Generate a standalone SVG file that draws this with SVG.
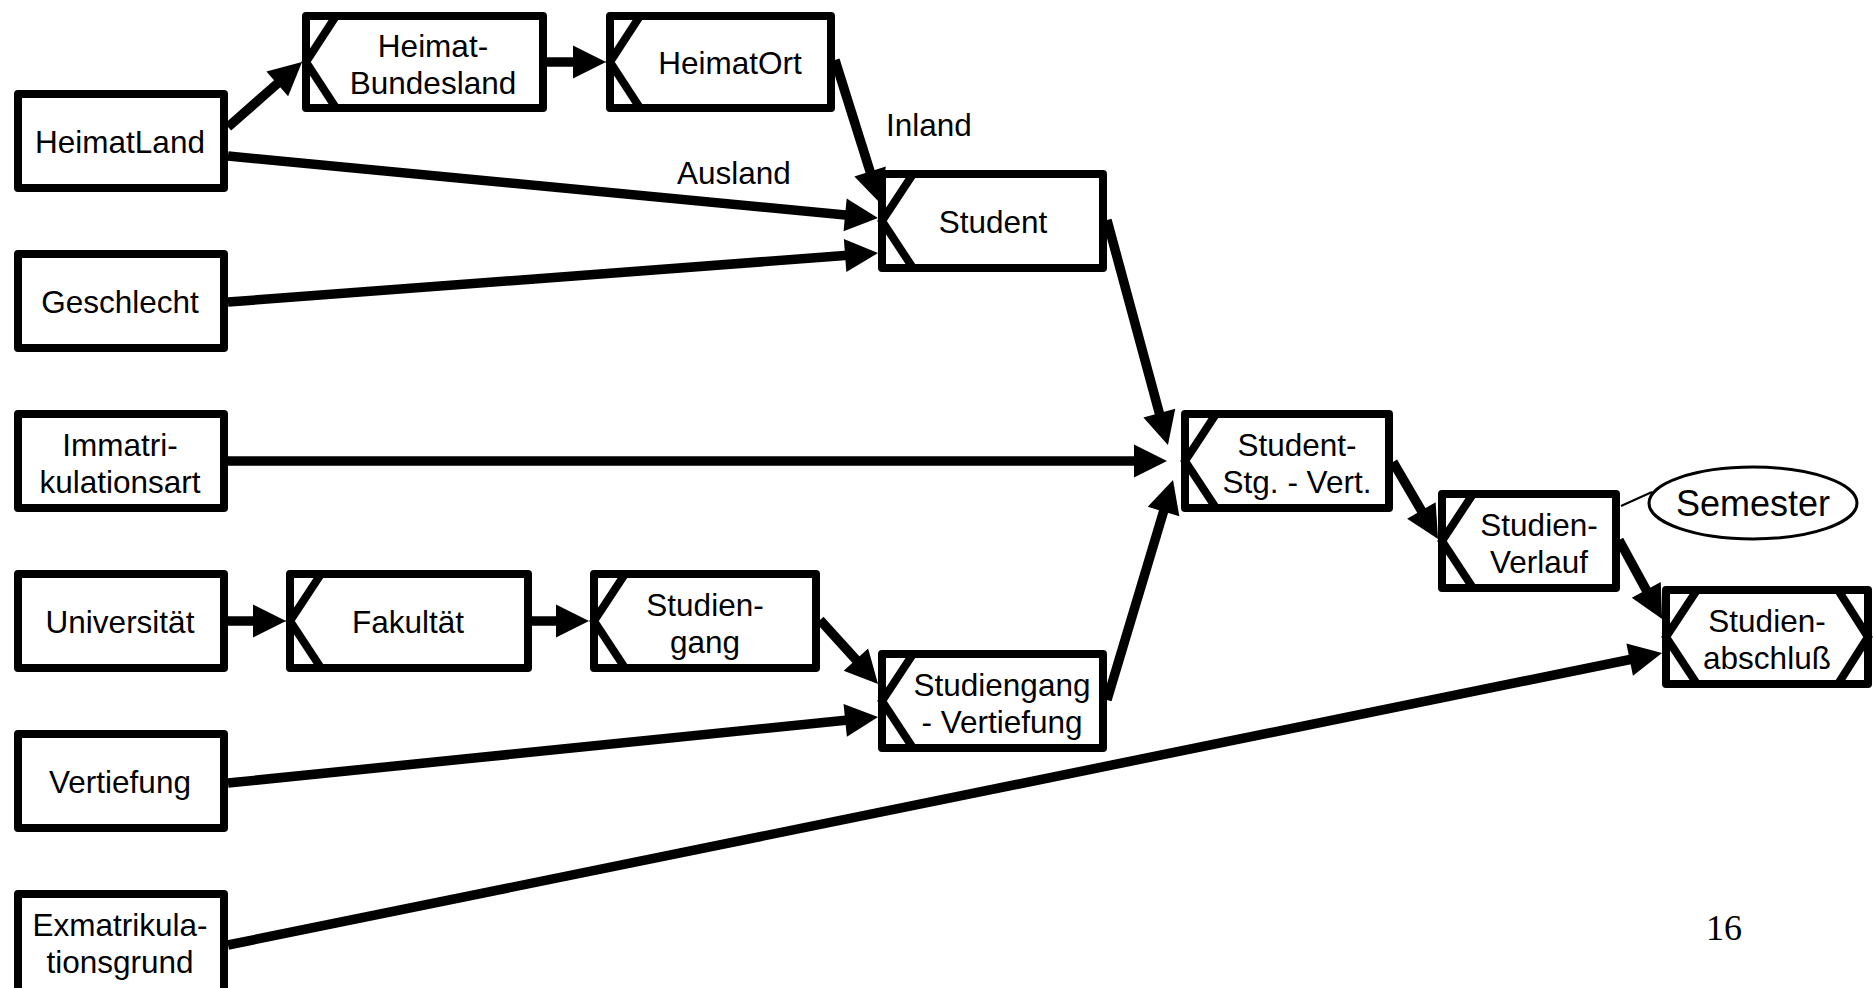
<svg xmlns="http://www.w3.org/2000/svg" width="1874" height="988" viewBox="0 0 1874 988">
  <style>
    .box { fill: #fff; stroke: #000; stroke-width: 8; stroke-linejoin: round; }
    .notch { fill: none; stroke: #000; stroke-width: 8; }
    .lbl { font-family: "Liberation Sans", Arial, sans-serif; font-size: 31.5px; fill: #000; text-anchor: middle; }
    .edge { fill: none; stroke: #000; stroke-width: 9.5; marker-end: url(#arrow); }
    .plain { font-family: "Liberation Sans", Arial, sans-serif; font-size: 31.5px; fill: #000; }
  </style>
  <defs>
    <marker id="arrow" markerUnits="userSpaceOnUse" markerWidth="40" markerHeight="40" viewBox="-2 -20 40 40" refX="3" refY="0" orient="auto" overflow="visible">
      <path d="M0,-16.5 L33,0 L0,16.5 Z" fill="#000"/>
    </marker>
  </defs>
  <rect width="1874" height="988" fill="#fff"/>

  <!-- connectors -->
  <g id="connectors">
    <line class="edge" x1="228" y1="127" x2="279.5" y2="81.8"/>
    <line class="edge" x1="547" y1="62" x2="576" y2="62"/>
    <line class="edge" x1="835" y1="60" x2="871" y2="174.4"/>
    <line class="edge" x1="228" y1="156" x2="848.1" y2="215.2"/>
    <line class="edge" x1="228" y1="302" x2="848.1" y2="255.3"/>
    <line class="edge" x1="228" y1="461" x2="1137" y2="461"/>
    <line class="edge" x1="1107" y1="220" x2="1160.1" y2="416"/>
    <line class="edge" x1="1107" y1="700" x2="1164.4" y2="508.7"/>
    <line class="edge" x1="228" y1="621" x2="256" y2="621"/>
    <line class="edge" x1="532" y1="621" x2="559" y2="621"/>
    <line class="edge" x1="820" y1="620" x2="857.9" y2="661.8"/>
    <line class="edge" x1="228" y1="783" x2="848.2" y2="720"/>
    <line class="edge" x1="1393" y1="462" x2="1422.9" y2="513.1"/>
    <line class="edge" x1="1619" y1="540" x2="1647.7" y2="592.6"/>
    <line class="edge" x1="228" y1="945" x2="1632.6" y2="659"/>
    <line x1="1621" y1="506" x2="1652" y2="492" stroke="#000" stroke-width="2"/>
    <text class="plain" x="677" y="184">Ausland</text>
    <text class="plain" x="886" y="136">Inland</text>
  </g>

  <!-- entity types without key notch -->
  <g id="heimatland">
    <rect class="box" x="18" y="94" width="206" height="94"/>
    <text class="lbl" x="120" y="153">HeimatLand</text>
  </g>
  <g id="geschlecht">
    <rect class="box" x="18" y="254" width="206" height="94"/>
    <text class="lbl" x="120" y="313">Geschlecht</text>
  </g>
  <g id="immatrikulationsart">
    <rect class="box" x="18" y="414" width="206" height="94"/>
    <text class="lbl" x="120" y="455.5">Immatri-</text>
    <text class="lbl" x="120" y="493">kulationsart</text>
  </g>
  <g id="universitaet">
    <rect class="box" x="18" y="574" width="206" height="94"/>
    <text class="lbl" x="120" y="633">Universität</text>
  </g>
  <g id="vertiefung">
    <rect class="box" x="18" y="734" width="206" height="94"/>
    <text class="lbl" x="120" y="793">Vertiefung</text>
  </g>
  <g id="exmatrikulationsgrund">
    <rect class="box" x="18" y="894" width="206" height="100"/>
    <text class="lbl" x="120" y="936">Exmatrikula-</text>
    <text class="lbl" x="120" y="973">tionsgrund</text>
  </g>

  <!-- dependent entity types with notch -->
  <g id="heimat-bundesland">
    <rect class="box" x="306" y="16" width="237" height="92"/>
    <polyline class="notch" points="336,16 306,62 336,108"/>
    <text class="lbl" x="433" y="56.5">Heimat-</text>
    <text class="lbl" x="433" y="94">Bundesland</text>
  </g>
  <g id="heimatort">
    <rect class="box" x="610" y="16" width="221" height="92"/>
    <polyline class="notch" points="640,16 610,62 640,108"/>
    <text class="lbl" x="730" y="74">HeimatOrt</text>
  </g>
  <g id="student">
    <rect class="box" x="882" y="174" width="221" height="94"/>
    <polyline class="notch" points="913,174 882,221 913,268"/>
    <text class="lbl" x="993" y="233">Student</text>
  </g>
  <g id="fakultaet">
    <rect class="box" x="290" y="574" width="238" height="94"/>
    <polyline class="notch" points="321,574 290,621 321,668"/>
    <text class="lbl" x="408" y="633">Fakultät</text>
  </g>
  <g id="studiengang">
    <rect class="box" x="594" y="574" width="222" height="94"/>
    <polyline class="notch" points="625,574 594,621 625,668"/>
    <text class="lbl" x="705" y="615.5">Studien-</text>
    <text class="lbl" x="705" y="653">gang</text>
  </g>
  <g id="studiengang-vertiefung">
    <rect class="box" x="882" y="654" width="221" height="94"/>
    <polyline class="notch" points="913,654 882,701 913,748"/>
    <text class="lbl" x="1002" y="695.5">Studiengang</text>
    <text class="lbl" x="1002" y="733">- Vertiefung</text>
  </g>
  <g id="student-stg-vert">
    <rect class="box" x="1185" y="414" width="204" height="94"/>
    <polyline class="notch" points="1216,414 1185,461 1216,508"/>
    <text class="lbl" x="1297" y="455.5">Student-</text>
    <text class="lbl" x="1297" y="493">Stg. - Vert.</text>
  </g>
  <g id="studien-verlauf">
    <rect class="box" x="1442" y="494" width="174" height="94"/>
    <polyline class="notch" points="1473,494 1442,541 1473,588"/>
    <text class="lbl" x="1539" y="535.5">Studien-</text>
    <text class="lbl" x="1539" y="573">Verlauf</text>
  </g>
  <g id="semester">
    <ellipse cx="1753" cy="503" rx="104" ry="36" fill="#fff" stroke="#000" stroke-width="3"/>
    <text class="lbl" x="1753" y="516" style="font-size:36px">Semester</text>
  </g>
  <g id="studienabschluss">
    <rect class="box" x="1666" y="590" width="202" height="94"/>
    <polyline class="notch" points="1697,590 1666,637 1697,684"/>
    <polyline class="notch" points="1838,590 1868,637 1838,684"/>
    <text class="lbl" x="1767" y="631.5">Studien-</text>
    <text class="lbl" x="1767" y="669">abschluß</text>
  </g>

  <text x="1706" y="940" font-family="'Liberation Serif', 'Times New Roman', serif" font-size="36" fill="#000">16</text>
</svg>
